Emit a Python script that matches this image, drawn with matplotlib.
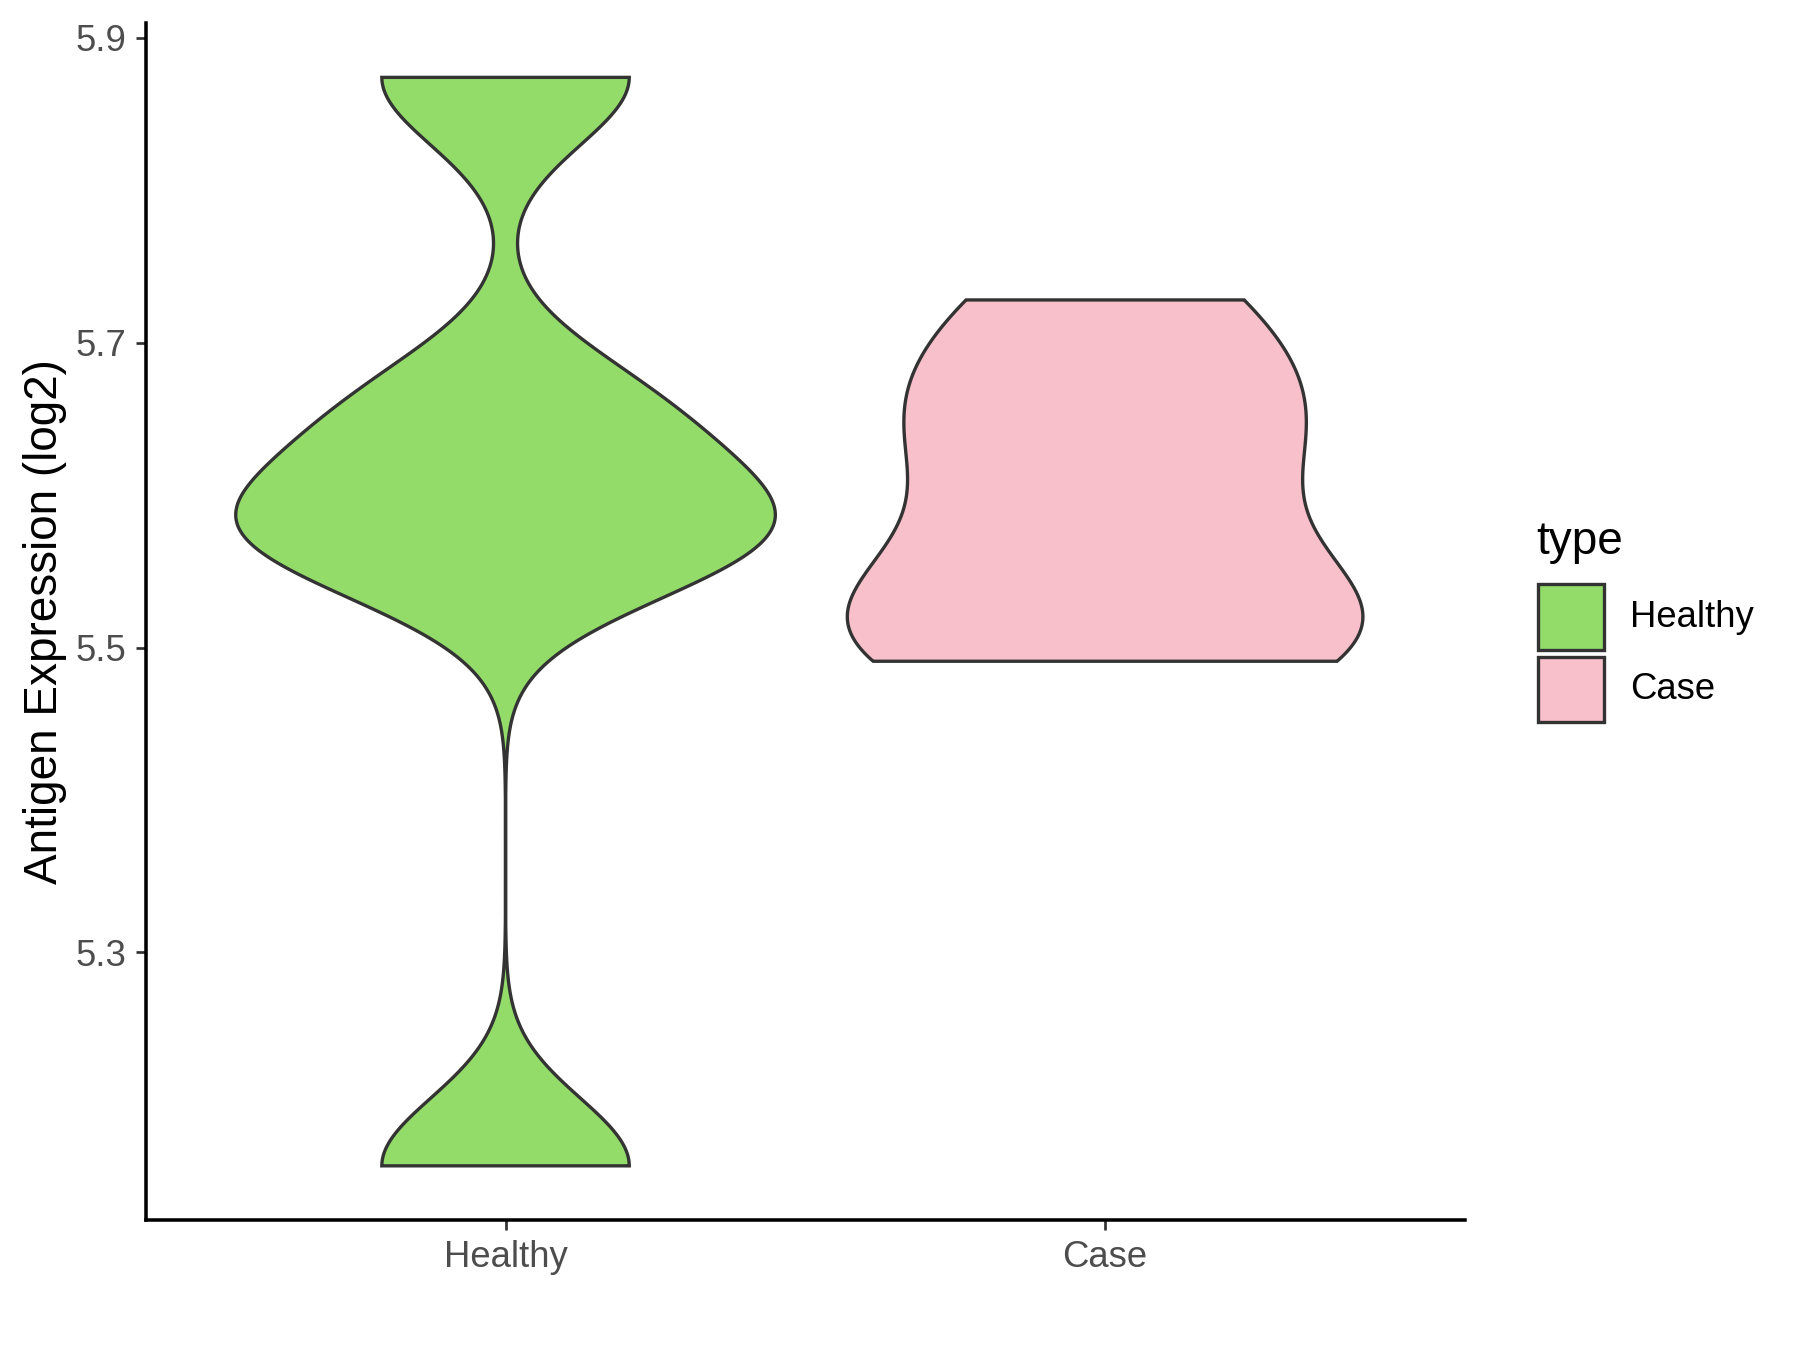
import numpy as np
import matplotlib
matplotlib.use('Agg')
import matplotlib.pyplot as plt
from matplotlib.patches import Rectangle

# ---- data ----
categories = ["Healthy", "Case"]
healthy_values = [5.160, 5.565, 5.586, 5.656, 5.874]
case_values = [5.491, 5.512, 5.512, 5.534, 5.631, 5.631, 5.691, 5.728]
fill_colors = ["#93DC6A", "#F7C0CB"]
y_ticks = [5.3, 5.5, 5.7, 5.9]
y_tick_labels = ["5.3", "5.5", "5.7", "5.9"]
y_label = "Antigen Expression (log2)"
legend_title = "type"

plt.rcParams['font.family'] = ['Liberation Sans', 'DejaVu Sans']


def bw_nrd0(x):
    x = np.asarray(x, float)
    sd = x.std(ddof=1)
    q75, q25 = np.percentile(x, [75, 25])
    lo = min(sd, (q75 - q25) / 1.34)
    if lo <= 0:
        lo = sd
    return 0.9 * lo * len(x) ** -0.2


def kde(x, grid):
    x = np.asarray(x, float)
    h = bw_nrd0(x)
    z = (grid[:, None] - x[None, :]) / h
    return np.exp(-0.5 * z ** 2).sum(1) / (len(x) * h * np.sqrt(2 * np.pi))


groups = [healthy_values, case_values]
grids, dens = [], []
for vals in groups:
    g = np.linspace(min(vals), max(vals), 512)
    grids.append(g)
    dens.append(kde(vals, g))
dmax = max(d.max() for d in dens)

fig = plt.figure(figsize=(12, 9), dpi=150)
ax_l, ax_r, ax_b, ax_t = 0.0810, 0.8138, 0.0961, 0.983
ax = fig.add_axes([ax_l, ax_b, ax_r - ax_l, ax_t - ax_b])

edge = "#333333"
for i, (g, d) in enumerate(zip(grids, dens)):
    pos = i + 1
    w = 0.45 * d / dmax
    xs = np.concatenate([pos - w, (pos + w)[::-1]])
    ys = np.concatenate([g, g[::-1]])
    ax.fill(xs, ys, facecolor=fill_colors[i], edgecolor=edge, linewidth=1.6,
            joinstyle='miter', zorder=2)

allv = np.concatenate([np.asarray(v) for v in groups])
lo, hi = allv.min(), allv.max()
pad = 0.05 * (hi - lo)
ax.set_ylim(lo - pad, hi + pad)
ax.set_xlim(0.4, 2.6)

for s in ['top', 'right']:
    ax.spines[s].set_visible(False)
for s in ['left', 'bottom']:
    ax.spines[s].set_linewidth(1.7)
    ax.spines[s].set_color('black')
    ax.spines[s].set_capstyle('projecting')

ax.set_yticks(y_ticks)
ax.set_yticklabels(y_tick_labels)
ax.set_xticks([1, 2])
ax.set_xticklabels(categories)
ax.tick_params(axis='both', length=5, width=1.3, color=edge,
               labelsize=17.5, labelcolor='#4D4D4D', pad=4.5)

fig.text(0.025, (ax_b + ax_t) / 2, y_label, fontsize=22, color='black',
         rotation=90, ha='center', va='center')

# legend
fig.text(0.8533, 0.5986, legend_title, fontsize=22, color='black',
         ha='left', va='center')
key_x0, key_w = 0.8546, 0.8909 - 0.8546
key_tops = [0.5672, 0.5136]
key_h = 0.5672 - 0.5187
for i, name in enumerate(categories):
    fig.patches.append(Rectangle((key_x0, key_tops[i] - key_h), key_w, key_h,
                                 transform=fig.transFigure, facecolor=fill_colors[i],
                                 edgecolor=edge, linewidth=1.6))
    fig.text(0.9056, key_tops[i] - key_h / 2, name, fontsize=17.5, color='black',
             ha='left', va='center')

fig.savefig('out.png', dpi=150, facecolor='white')
